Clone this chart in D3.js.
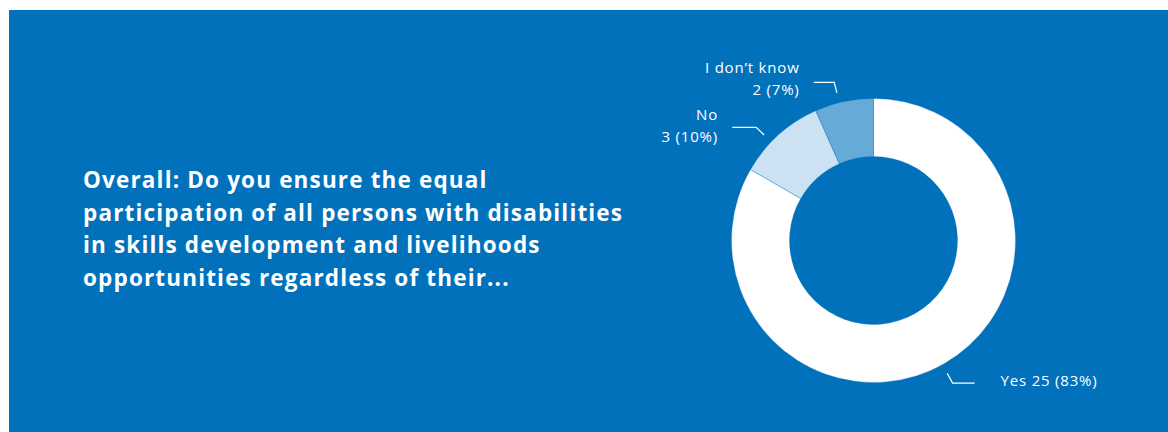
<!DOCTYPE html>
<html>
<head>
<meta charset="utf-8">
<script src="https://cdn.jsdelivr.net/npm/d3@7"></script>
<style>
  body { margin: 0; background: #fff; }
  svg { display: block; }
  text { font-family: "Open Sans", Lato, sans-serif; fill: #fff; }
</style>
</head>
<body>
<div id="vis"></div>
<script>
// chart data
var categories = ["Yes", "No", "I don\u2019t know"];
var counts = [25, 3, 2];
var percents = [83, 10, 7];
var titleLines = [
  "Overall: Do you ensure the equal",
  "participation of all persons with disabilities",
  "in skills development and livelihoods",
  "opportunities regardless of their..."
];

var width = 1168, height = 432;
var bg = "#0171bb";

var svg = d3.select("#vis")
  .append("svg")
  .attr("width", width)
  .attr("height", height);

// blue panel
svg.append("rect")
  .attr("x", 9)
  .attr("y", 10)
  .attr("width", width - 9)
  .attr("height", height - 10)
  .attr("fill", bg);

// title; letter spacing widened so the longest line spans ~539px like the original
var title = svg.append("text")
  .attr("x", 83)
  .attr("y", 188)
  .attr("font-size", 22.5)
  .attr("font-weight", 700);

var tspans = title.selectAll("tspan")
  .data(titleLines)
  .enter().append("tspan")
  .attr("x", 83)
  .attr("dy", function(d, i) { return i === 0 ? 0 : 32.7; })
  .text(function(d) { return d; });

var longNode = tspans.nodes()[1];
var extra = (539 - longNode.getComputedTextLength()) / (titleLines[1].length - 1);
title.attr("letter-spacing", Math.max(0, Math.min(1.5, extra)));

/* donut */
var cx = 873.5, cy = 240.5, outerR = 142, innerR = 84;

var data = categories.map(function(c, i) {
  return {name: c, count: counts[i], pct: percents[i]};
});

var color = d3.scaleOrdinal()
  .domain(categories)
  .range(["#ffffff", "#cce1f1", "#66aad8"]);

var pie = d3.pie()
  .sort(null)
  .value(function(d) { return d.count; });

var arc = d3.arc().innerRadius(innerR).outerRadius(outerR);

var donut = svg.append("g")
  .attr("transform", "translate(" + cx + "," + cy + ")");

var arcs = pie(data);

donut.selectAll("path")
  .data(arcs)
  .enter().append("path")
  .attr("d", arc)
  .attr("fill", function(d) { return color(d.data.name); })
  .attr("stroke", bg)
  .attr("stroke-width", 0.3);

// leader lines: start just outside the ring, bend, then run horizontal
var lineR = 152, bendR = 163;
function pt(a, r) { return [Math.sin(a) * r, -Math.cos(a) * r]; }

var labelSpec = {
  "Yes": {angle: 2.635, run: 22, side: 1, gap: 26, dy1: 3},
  "No": {angle: 5.48, run: 24, side: -1, gap: 15, dy1: -7.5, dy2: 15},
  "I don\u2019t know": {angle: 6.04, run: 20.5, side: -1, gap: 15, dy1: -9.5, dy2: 12.5}
};

arcs.forEach(function(d) {
  var s = labelSpec[d.data.name];
  var p0 = pt(s.angle, lineR), p1 = pt(s.angle, bendR);
  var p2 = [p1[0] + s.side * s.run, p1[1]];
  donut.append("polyline")
    .attr("points", [p0, p1, p2].map(function(p) { return p.join(","); }).join(" "))
    .attr("fill", "none")
    .attr("stroke", "#fff")
    .attr("stroke-width", 1.2);

  var tx = p2[0] + s.side * s.gap;
  if (s.side > 0) {
    donut.append("text")
      .attr("x", tx)
      .attr("y", p2[1] + s.dy1)
      .attr("font-size", 15)
      .attr("letter-spacing", 0.8)
      .text(d.data.name + " " + d.data.count + " (" + d.data.pct + "%)");
  } else {
    // end-anchored text: shift by one spacing so the last glyph sits on tx
    var t = donut.append("text")
      .attr("text-anchor", "end")
      .attr("font-size", 15)
      .attr("letter-spacing", 0.8);
    t.append("tspan").attr("x", tx + 0.8).attr("y", p2[1] + s.dy1).text(d.data.name);
    t.append("tspan").attr("x", tx + 0.8).attr("y", p2[1] + s.dy2).text(d.data.count + " (" + d.data.pct + "%)");
  }
});
</script>
</body>
</html>
